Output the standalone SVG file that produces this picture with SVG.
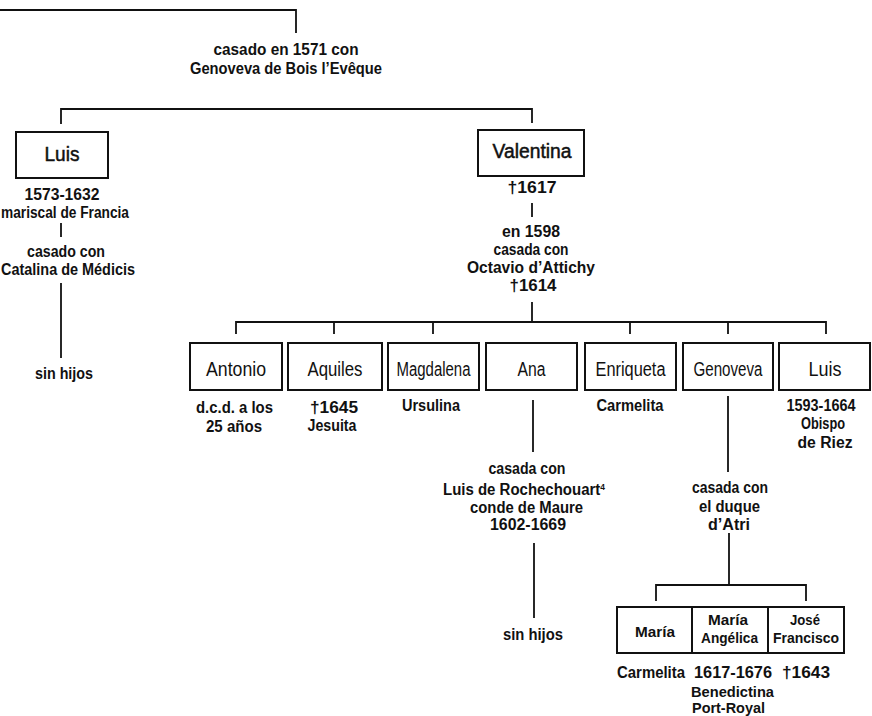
<svg xmlns="http://www.w3.org/2000/svg" width="872" height="716" viewBox="0 0 872 716">
<style>
text{font-family:"Liberation Sans",Arial,sans-serif;fill:#111;text-anchor:middle}
.t{font-weight:bold;font-size:16px}
.n{font-weight:normal;font-size:20px}
.nb{stroke:#111;stroke-width:0.5}
.b{font-weight:bold;font-size:15.5px}
.s{font-weight:bold;font-size:14px}
.box{fill:#fff;stroke:#111;stroke-width:2}
.ln{fill:none;stroke:#111;stroke-width:1.8}
</style>
<rect width="872" height="716" fill="#fff"/>
<g id="connectors" class="ln">
<path d="M0 10 H296 V33"/>
<path d="M61 124 V109 H532 V123"/>
<path d="M61 223 V237"/>
<path d="M61 283 V358"/>
<path d="M532 203 V217"/>
<path d="M532 302 V322"/>
<path d="M236 334 V322 H826 V334"/>
<path d="M334 322 V334 M433 322 V334 M630 322 V334 M728 322 V334"/>
<path d="M533 400 V452"/>
<path d="M534 543 V618"/>
<path d="M728 396 V472"/>
<path d="M729 533 V585"/>
<path d="M656 601 V585 H806 V601"/>
</g>
<g id="marriage-1571">
<text class="t" x="286" y="55" textLength="145" lengthAdjust="spacingAndGlyphs">casado en 1571 con</text>
<text class="t" x="286" y="74" textLength="192" lengthAdjust="spacingAndGlyphs">Genoveva de Bois l’Evêque</text>
</g>
<g id="luis-1573">
<rect class="box" x="16" y="132" width="92" height="46"/>
<text class="n nb" x="62" y="161" style="font-size:21px" textLength="35" lengthAdjust="spacingAndGlyphs">Luis</text>
<text class="t" x="62" y="200" textLength="75" lengthAdjust="spacingAndGlyphs">1573-1632</text>
<text class="t" x="65" y="218" textLength="128" lengthAdjust="spacingAndGlyphs">mariscal de Francia</text>
<text class="t" x="66" y="257" textLength="78" lengthAdjust="spacingAndGlyphs">casado con</text>
<text class="t" x="68" y="275" textLength="134" lengthAdjust="spacingAndGlyphs">Catalina de Médicis</text>
<text class="t" x="64" y="379" textLength="58" lengthAdjust="spacingAndGlyphs">sin hijos</text>
</g>
<g id="valentina">
<rect class="box" x="478" y="130" width="106" height="46"/>
<text class="n nb" x="532" y="158" textLength="79" lengthAdjust="spacingAndGlyphs">Valentina</text>
<text class="t" x="532" y="193" textLength="49" lengthAdjust="spacingAndGlyphs">†1617</text>
<text class="t" x="531" y="237" textLength="58" lengthAdjust="spacingAndGlyphs">en 1598</text>
<text class="t" x="531" y="255" textLength="75" lengthAdjust="spacingAndGlyphs">casada con</text>
<text class="t" x="531" y="273" textLength="128" lengthAdjust="spacingAndGlyphs">Octavio d’Attichy</text>
<text class="t" x="533" y="291" textLength="47" lengthAdjust="spacingAndGlyphs">†1614</text>
</g>
<g id="antonio">
<rect class="box" x="190" y="343" width="92" height="47"/>
<text class="n" x="236" y="376" textLength="60" lengthAdjust="spacingAndGlyphs">Antonio</text>
<text class="t" x="234.5" y="413" textLength="77" lengthAdjust="spacingAndGlyphs">d.c.d. a los</text>
<text class="t" x="234" y="432" textLength="56" lengthAdjust="spacingAndGlyphs">25 años</text>
</g>
<g id="aquiles">
<rect class="box" x="288" y="343" width="94" height="47"/>
<text class="n" x="335" y="376" textLength="55" lengthAdjust="spacingAndGlyphs">Aquiles</text>
<text class="t" x="334" y="413" textLength="48" lengthAdjust="spacingAndGlyphs">†1645</text>
<text class="t" x="332" y="431" textLength="49" lengthAdjust="spacingAndGlyphs">Jesuita</text>
</g>
<g id="magdalena">
<rect class="box" x="388" y="343" width="91" height="47"/>
<text class="n" x="433.5" y="376" textLength="74" lengthAdjust="spacingAndGlyphs">Magdalena</text>
<text class="t" x="431" y="411" textLength="58" lengthAdjust="spacingAndGlyphs">Ursulina</text>
</g>
<g id="ana">
<rect class="box" x="486" y="343" width="91" height="47"/>
<text class="n" x="531.5" y="376" textLength="28" lengthAdjust="spacingAndGlyphs">Ana</text>
<text class="t" x="527" y="474" textLength="77" lengthAdjust="spacingAndGlyphs">casada con</text>
<text class="t" x="524" y="495" textLength="162" lengthAdjust="spacingAndGlyphs">Luis de Rochechouart<tspan font-size="9" dy="-5">4</tspan></text>
<text class="t" x="526.5" y="513" textLength="113" lengthAdjust="spacingAndGlyphs">conde de Maure</text>
<text class="t" x="528" y="530" textLength="76" lengthAdjust="spacingAndGlyphs">1602-1669</text>
<text class="t" x="533" y="640" textLength="60" lengthAdjust="spacingAndGlyphs">sin hijos</text>
</g>
<g id="enriqueta">
<rect class="box" x="585" y="343" width="91" height="47"/>
<text class="n" x="630.5" y="376" textLength="70" lengthAdjust="spacingAndGlyphs">Enriqueta</text>
<text class="t" x="630" y="411" textLength="67" lengthAdjust="spacingAndGlyphs">Carmelita</text>
</g>
<g id="genoveva">
<rect class="box" x="683" y="343" width="90" height="47"/>
<text class="n" x="728" y="376" textLength="69" lengthAdjust="spacingAndGlyphs">Genoveva</text>
<text class="t" x="730" y="493" textLength="76" lengthAdjust="spacingAndGlyphs">casada con</text>
<text class="t" x="729.5" y="512" textLength="61" lengthAdjust="spacingAndGlyphs">el duque</text>
<text class="t" x="729" y="530" textLength="42" lengthAdjust="spacingAndGlyphs">d’Atri</text>
</g>
<g id="luis-1593">
<rect class="box" x="779" y="343" width="91" height="47"/>
<text class="n" x="825" y="376" textLength="33" lengthAdjust="spacingAndGlyphs">Luis</text>
<text class="t" x="821" y="411" textLength="69" lengthAdjust="spacingAndGlyphs">1593-1664</text>
<text class="t" x="823" y="429" textLength="44" lengthAdjust="spacingAndGlyphs">Obispo</text>
<text class="t" x="825" y="448" textLength="55" lengthAdjust="spacingAndGlyphs">de Riez</text>
</g>
<g id="maria">
<rect class="box" x="617" y="607" width="75" height="46"/>
<text class="b" x="655" y="637" textLength="40" lengthAdjust="spacingAndGlyphs">María</text>
<text class="t" x="651" y="678" textLength="68" lengthAdjust="spacingAndGlyphs">Carmelita</text>
</g>
<g id="maria-angelica">
<rect class="box" x="692" y="607" width="76" height="46"/>
<text class="b" x="728" y="625" textLength="40" lengthAdjust="spacingAndGlyphs">María</text>
<text class="b" x="729.5" y="643" textLength="57" lengthAdjust="spacingAndGlyphs">Angélica</text>
<text class="t" x="733" y="678" textLength="78" lengthAdjust="spacingAndGlyphs">1617-1676</text>
<text class="s" x="732.5" y="697" textLength="83" lengthAdjust="spacingAndGlyphs">Benedictina</text>
<text class="s" x="728.5" y="713" textLength="73" lengthAdjust="spacingAndGlyphs">Port-Royal</text>
</g>
<g id="jose-francisco">
<rect class="box" x="768" y="607" width="76" height="46"/>
<text class="b" x="805" y="625" textLength="30" lengthAdjust="spacingAndGlyphs">José</text>
<text class="b" x="806" y="643" textLength="66" lengthAdjust="spacingAndGlyphs">Francisco</text>
<text class="t" x="806" y="678" textLength="48" lengthAdjust="spacingAndGlyphs">†1643</text>
</g>
</svg>
